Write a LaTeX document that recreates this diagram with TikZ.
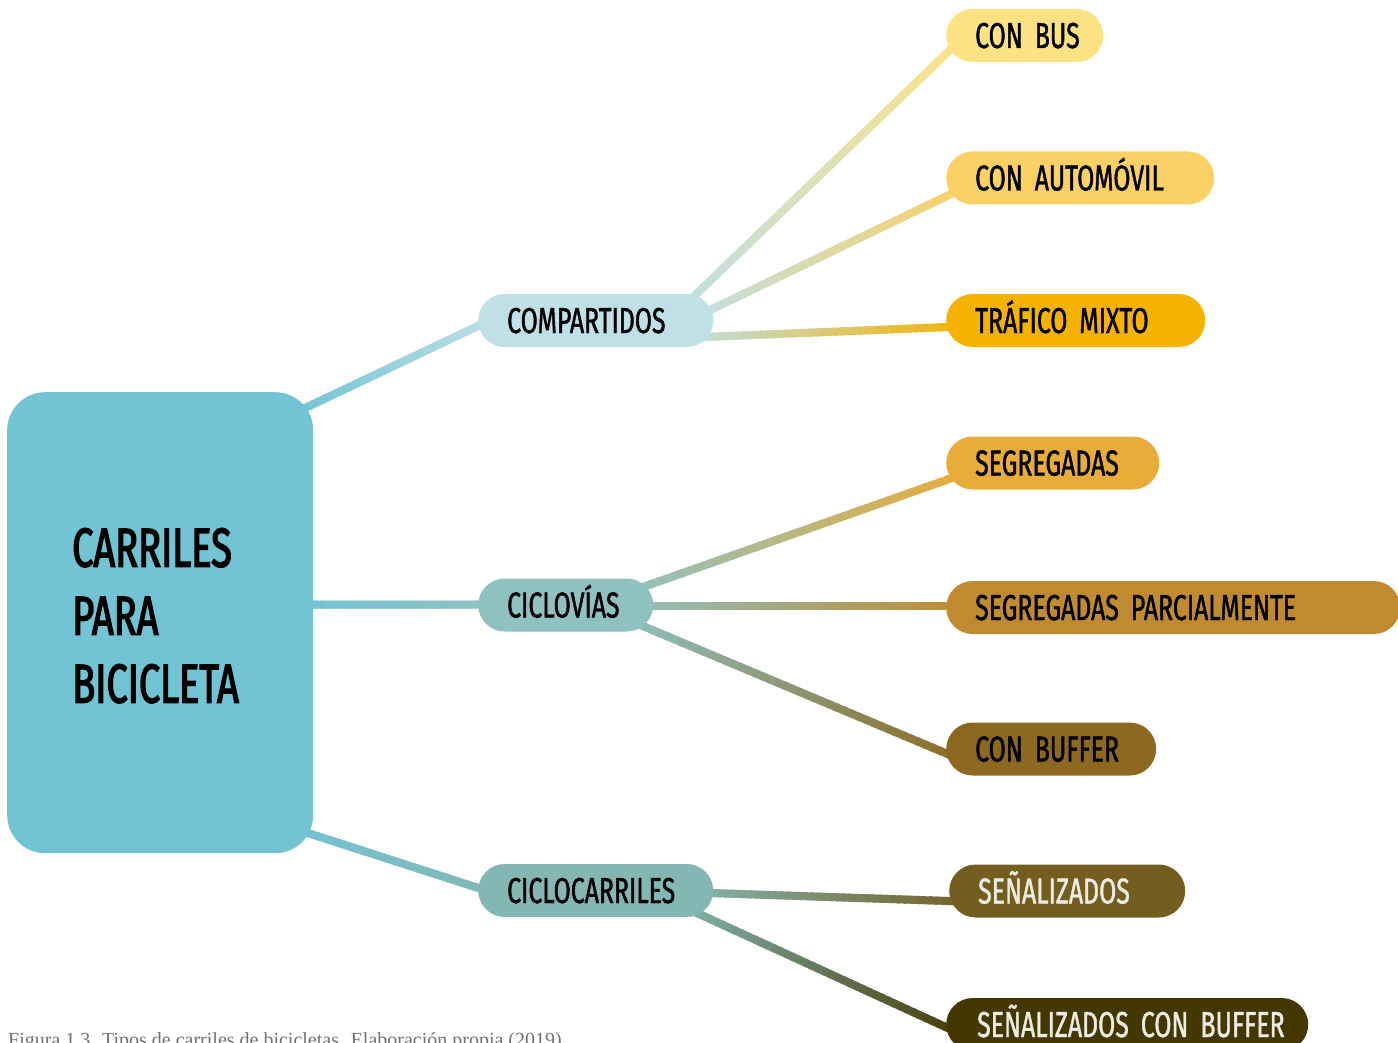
\documentclass[tikz,border=0pt]{standalone}
\usepackage{fontspec}
\usetikzlibrary{calc,backgrounds}
\newfontfamily\headfont{Fira Sans}[FakeStretch=0.69,FakeBold=1.2,WordSpace=0.35]
\newfontfamily\titlefont{Fira Sans}[FakeStretch=0.69,FakeBold=2.4]
\newfontfamily\capfont{Liberation Serif}

\definecolor{cMain}{HTML}{72C3D4}
\definecolor{cComp}{HTML}{BEE0E6}
\definecolor{cCiclov}{HTML}{8FC1C1}
\definecolor{cCiclocar}{HTML}{84B7B3}
\definecolor{cBus}{HTML}{FDE283}
\definecolor{cAuto}{HTML}{FBD166}
\definecolor{cTraf}{HTML}{F6B200}
\definecolor{cSeg}{HTML}{E8AC3A}
\definecolor{cSegp}{HTML}{C08B30}
\definecolor{cBuf}{HTML}{8D6820}
\definecolor{cSenal}{HTML}{735E20}
\definecolor{cSenalb}{HTML}{453700}
\definecolor{cLight}{HTML}{EDEBE4}
\definecolor{cCaption}{HTML}{707070}

\tikzset{
  pill/.style={rounded corners=26.5pt, inner xsep=29pt, inner ysep=0pt,
    minimum height=53pt, text width=#1, align=left, anchor=west,
    text height=25pt, text depth=0pt,
    font=\headfont\fontsize{36}{36}\selectfont},
  mainbox/.style={rounded corners=38pt, fill=cMain, anchor=north west,
    minimum width=306pt, minimum height=461pt, inner xsep=65pt,
    text width=176pt, align=left, text height=38pt, text depth=150pt,
    font=\titlefont\fontsize{55}{68}\selectfont},
  link/.style={line width=8pt},
}

% a connector whose colour runs from #3 at (#1) to #4 at (#2)
\newcommand\gradlink[4]{%
  \foreach \k in {0,...,47}{%
    \pgfmathsetmacro\ta{\k/48}%
    \pgfmathsetmacro\tb{min(1,(\k+1.6)/48)}%
    \pgfmathtruncatemacro\pc{100-100*\k/47}%
    \draw[link, draw=#3!\pc!#4] ($(#1)!\ta!(#2)$) -- ($(#1)!\tb!(#2)$);
  }}

\begin{document}
\begin{tikzpicture}[x=1pt, y=-1pt]
\useasboundingbox (0,0) rectangle (1398,1043);
\begin{pgfonlayer}{background}
  \fill[white] (0,0) rectangle (1398,1043);
\end{pgfonlayer}

% root
\node[mainbox] (main) at (7,392) {CARRILES\\PARA\\BICICLETA};

% second level
\node[pill=177pt, fill=cComp]     (comp)     at (478,320.5) {\mbox{COMPARTIDOS}};
\node[pill=117pt, fill=cCiclov]   (ciclov)   at (478,605)   {\mbox{CICLOVÍAS}};
\node[pill=177pt, fill=cCiclocar] (ciclocar) at (478,890.5) {\mbox{CICLOCARRILES}};

% leaves
\node[pill=99pt,  fill=cBus]  (bus)  at (946,35.5)  {\mbox{CON BUS}};
\node[pill=210pt, fill=cAuto] (auto) at (946,178)   {\mbox{CON AUTOMÓVIL}};
\node[pill=201pt, fill=cTraf] (traf) at (946,320.5) {\mbox{TRÁFICO MIXTO}};
\node[pill=155pt, fill=cSeg]  (seg)  at (946,463)   {\mbox{SEGREGADAS}};
\node[pill=396pt, fill=cSegp] (segp) at (946,607.5) {\mbox{SEGREGADAS PARCIALMENTE}};
\node[pill=152pt, fill=cBuf]  (buf)  at (946,749)   {\mbox{CON BUFFER}};
\node[pill=178pt, fill=cSenal, text=cLight]   (senal)  at (949,891)
  {\mbox{SEÑALIZADOS}};
\node[pill=300pt, fill=cSenalb, text=cLight, inner xsep=31pt] (senalb) at (946,1024.5)
  {\mbox{SEÑALIZADOS CON BUFFER}};

% caption
\node[anchor=base west, inner sep=0pt, text=cCaption,
      font=\capfont\fontsize{20}{20}\selectfont] (caption) at (8,1046)
  {Figura 1.3. Tipos de carriles de bicicletas. Elaboración propia (2019)};

% connector end points, tied to the nodes
\coordinate (m1) at ([shift={(-23,23)}]main.north east);
\coordinate (m2) at ([shift={(-13,-18)}]main.east);
\coordinate (m3) at ([shift={(-23,-26)}]main.south east);
\coordinate (c1) at ([shift={(22,-5)}]comp.west);
\coordinate (v1) at ([shift={(12,-0.5)}]ciclov.west);
\coordinate (r1) at ([shift={(22,4.5)}]ciclocar.west);

\coordinate (cb) at ([shift={(-43,-1.5)}]comp.east);
\coordinate (ca) at ([shift={(-33,3.9)}]comp.east);
\coordinate (ct) at ([shift={(-33,17.5)}]comp.east);
\coordinate (bus1)  at ([shift={(29,-9.5)}]bus.west);
\coordinate (auto1) at ([shift={(29,4.4)}]auto.west);
\coordinate (traf1) at ([shift={(29,5.4)}]traf.west);

\coordinate (vs) at ([shift={(-33,-10)}]ciclov.east);
\coordinate (vp) at ([shift={(-33,1)}]ciclov.east);
\coordinate (vb) at ([shift={(-33,11.6)}]ciclov.east);
\coordinate (seg1)  at ([shift={(29,6.9)}]seg.west);
\coordinate (segp1) at ([shift={(29,-1.5)}]segp.west);
\coordinate (buf1)  at ([shift={(29,16.5)}]buf.west);

\coordinate (rs) at ([shift={(-33,1.5)}]ciclocar.east);
\coordinate (rb) at ([shift={(-43,10.3)}]ciclocar.east);
\coordinate (senal1)  at ([shift={(29,11)}]senal.west);
\coordinate (senalb1) at ([shift={(29,16)}]senalb.west);

\begin{pgfonlayer}{background}
  \gradlink{m1}{c1}{cMain}{cComp}
  \gradlink{m2}{v1}{cMain}{cCiclov}
  \gradlink{m3}{r1}{cMain}{cCiclocar}
  \gradlink{cb}{bus1}{cComp}{cBus}
  \gradlink{ca}{auto1}{cComp}{cAuto}
  \gradlink{ct}{traf1}{cComp}{cTraf}
  \gradlink{vs}{seg1}{cCiclov}{cSeg}
  \gradlink{vp}{segp1}{cCiclov}{cSegp}
  \gradlink{vb}{buf1}{cCiclov}{cBuf}
  \gradlink{rs}{senal1}{cCiclocar}{cSenal}
  \gradlink{rb}{senalb1}{cCiclocar}{cSenalb}
\end{pgfonlayer}
\end{tikzpicture}
\end{document}
